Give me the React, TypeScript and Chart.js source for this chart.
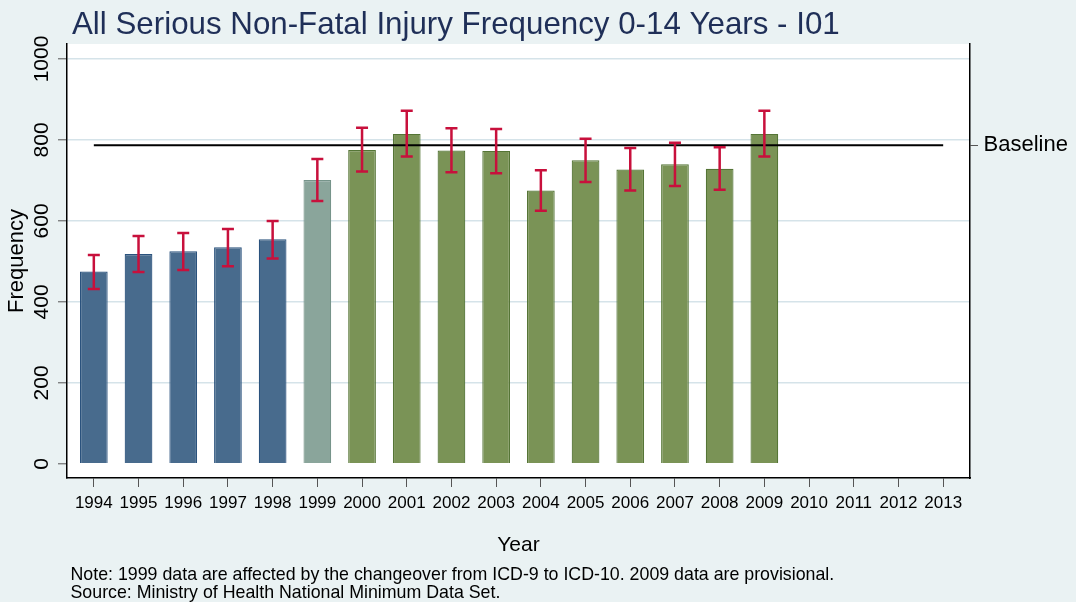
import React, { useEffect, useRef } from 'react';
import { Chart, registerables } from 'chart.js';

Chart.register(...registerables);

// ---- data ----
const YEARS = [1994, 1995, 1996, 1997, 1998, 1999, 2000, 2001, 2002, 2003, 2004, 2005, 2006, 2007, 2008, 2009];
const FREQUENCY = [475, 518, 525, 535, 555, 701, 775, 815, 774, 773, 675, 750, 727, 740, 729, 815];
const LOWER_CI = [432, 474, 479, 488, 507, 649, 722, 759, 720, 718, 625, 696, 675, 686, 677, 759];
const UPPER_CI = [516, 563, 570, 580, 600, 753, 830, 872, 829, 827, 725, 803, 780, 793, 782, 872];
const BASELINE = 787;
const AXIS_YEARS = [1994, 1995, 1996, 1997, 1998, 1999, 2000, 2001, 2002, 2003, 2004, 2005, 2006, 2007, 2008, 2009, 2010, 2011, 2012, 2013];
const Y_TICKS = [0, 200, 400, 600, 800, 1000];

const TITLE = 'All Serious Non-Fatal Injury Frequency 0-14 Years - I01';
const NOTES = [
  'Note: 1999 data are affected by the changeover from ICD-9 to ICD-10. 2009 data are provisional.',
  'Source: Ministry of Health National Minimum Data Set.',
];

// ---- styles ----
const FONT = "'Liberation Sans', Arial, sans-serif";
const BG = '#eaf2f3';
const GRID = '#d5e3e9';
const ERR = '#c8103c';

function barColor(year: number) {
  if (year < 1999) return '#486b8d';
  if (year === 1999) return '#8aa59b';
  return '#7a9356';
}
function barBorder(year: number) {
  if (year < 1999) return '#2a527d';
  if (year === 1999) return '#76948a';
  return '#557536';
}

const background = {
  id: 'bgPlugin',
  beforeDraw(chart: any) {
    const { ctx, chartArea } = chart;
    ctx.save();
    ctx.fillStyle = BG;
    ctx.fillRect(0, 0, chart.width, chart.height);
    ctx.fillStyle = '#ffffff';
    ctx.fillRect(chartArea.left, chartArea.top, chartArea.right - chartArea.left, chartArea.bottom - chartArea.top);
    ctx.restore();
  },
};

const headerAndNotes = {
  id: 'headerAndNotes',
  afterDraw(chart: any) {
    const { ctx } = chart;
    ctx.save();
    ctx.textAlign = 'left';
    ctx.textBaseline = 'alphabetic';
    ctx.fillStyle = '#1f2f58';
    ctx.font = `31.3px ${FONT}`;
    ctx.fillText(TITLE, 72, 33.5);
    ctx.fillStyle = '#000';
    ctx.font = `17.8px ${FONT}`;
    NOTES.forEach((line, i) => ctx.fillText(line, 70.5, 579.5 + i * 18.2));
    ctx.restore();
  },
};

const errorBars = {
  id: 'errorBars',
  afterDatasetsDraw(chart: any) {
    const { ctx } = chart;
    const x = chart.scales.x;
    const y = chart.scales.y;
    ctx.save();
    ctx.strokeStyle = ERR;
    ctx.lineWidth = 2.5;
    YEARS.forEach((yr, i) => {
      const px = x.getPixelForValue(yr);
      const top = y.getPixelForValue(UPPER_CI[i]);
      const bot = y.getPixelForValue(LOWER_CI[i]);
      ctx.beginPath();
      ctx.moveTo(px, top);
      ctx.lineTo(px, bot);
      ctx.moveTo(px - 6, top);
      ctx.lineTo(px + 6, top);
      ctx.moveTo(px - 6, bot);
      ctx.lineTo(px + 6, bot);
      ctx.stroke();
    });
    ctx.restore();
  },
};

export default function App() {
  const ref = useRef<HTMLCanvasElement | null>(null);

  useEffect(() => {
    document.body.style.margin = '0';
    document.body.style.background = BG;
    if (!ref.current) return;
    Chart.defaults.font.family = FONT;
    Chart.defaults.color = '#000';

    const chart = new Chart(ref.current, {
      type: 'bar',
      data: {
        datasets: [
          {
            type: 'line',
            data: [
              { x: AXIS_YEARS[0], y: BASELINE },
              { x: AXIS_YEARS[AXIS_YEARS.length - 1], y: BASELINE },
            ],
            borderColor: '#000',
            borderWidth: 2,
            pointRadius: 0,
            order: 0,
          } as any,
          {
            type: 'bar',
            data: YEARS.map((yr, i) => ({ x: yr, y: FREQUENCY[i] })),
            backgroundColor: YEARS.map(barColor),
            borderColor: YEARS.map(barBorder),
            borderWidth: 1.2,
            barPercentage: 0.62,
            categoryPercentage: 1,
            order: 1,
          } as any,
        ],
      },
      options: {
        animation: false,
        responsive: true,
        maintainAspectRatio: false,
        events: [],
        layout: { padding: { top: 44, bottom: 40, left: 0, right: 0 } },
        plugins: {
          legend: { display: false },
          tooltip: { enabled: false },
          title: { display: false },
        },
        scales: {
          x: {
            type: 'linear',
            min: 1993.4,
            max: 2013.6,
            offset: false,
            afterBuildTicks: (scale: any) => {
              scale.ticks = AXIS_YEARS.map((v) => ({ value: v }));
            },
            afterFit: (scale: any) => {
              scale.height = 84;
            },
            ticks: {
              autoSkip: false,
              maxRotation: 0,
              minRotation: 0,
              padding: 6,
              font: { size: 17, family: FONT },
              color: '#000',
              callback: (v: any) => String(v),
            },
            grid: {
              offset: false,
              drawOnChartArea: false,
              drawTicks: true,
              tickLength: 9,
              tickColor: '#555',
              tickWidth: 1,
            },
            border: { display: true, color: '#000', width: 1.5 },
            title: {
              display: true,
              text: 'Year',
              color: '#000',
              font: { size: 21, family: FONT, lineHeight: 1.2 },
              padding: { top: 0, bottom: 4 },
            },
          },
          y: {
            type: 'linear',
            position: 'left',
            min: -35,
            max: 1037,
            afterBuildTicks: (scale: any) => {
              scale.ticks = Y_TICKS.map((v) => ({ value: v }));
            },
            afterFit: (scale: any) => {
              scale.width = 67;
            },
            ticks: {
              minRotation: 90,
              maxRotation: 90,
              crossAlign: 'center',
              padding: -8,
              font: { size: 21, family: FONT },
              color: '#000',
              callback: (v: any) => String(v),
            },
            grid: {
              color: (c: any) => (c.tick && c.tick.value === 0 ? 'rgba(0,0,0,0)' : GRID),
              lineWidth: 1.6,
              drawTicks: true,
              tickLength: 9,
              tickColor: '#555',
              tickWidth: 1,
            },
            border: { display: true, color: '#000', width: 1.5 },
            title: {
              display: true,
              text: 'Frequency',
              color: '#000',
              font: { size: 22, family: FONT, lineHeight: 1.2 },
              padding: { top: 4, bottom: 0 },
            },
          },
          y2: {
            type: 'linear',
            position: 'right',
            min: -35,
            max: 1037,
            afterBuildTicks: (scale: any) => {
              scale.ticks = [{ value: BASELINE }];
            },
            afterFit: (scale: any) => {
              scale.width = 106;
            },
            ticks: {
              padding: 5.5,
              font: { size: 22, family: FONT },
              color: '#000',
              callback: () => 'Baseline',
            },
            grid: {
              drawOnChartArea: false,
              drawTicks: true,
              tickLength: 8,
              tickColor: '#555',
              tickWidth: 1,
            },
            border: { display: true, color: '#000', width: 1.5 },
          },
        },
      } as any,
      plugins: [background, errorBars, headerAndNotes],
    });

    return () => chart.destroy();
  }, []);

  return (
    <div style={{ position: 'fixed', left: 0, top: 0, width: 1076, height: 602, background: BG }}>
      <canvas ref={ref} />
    </div>
  );
}
